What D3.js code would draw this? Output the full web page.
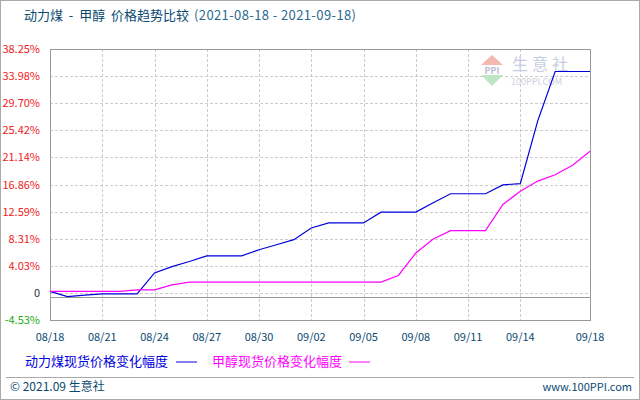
<!DOCTYPE html>
<html>
<head>
<meta charset="utf-8">
<script src="https://cdn.jsdelivr.net/npm/d3@7/dist/d3.min.js"></script>
<style>
  body { margin: 0; background: #fff; }
  text { font-family: "Noto Sans CJK SC", "DejaVu Sans", sans-serif; font-size: 12px; }
</style>
</head>
<body>
<script>
var dates = ["08/18","08/19","08/20","08/21","08/22","08/23","08/24","08/25","08/26","08/27","08/28","08/29","08/30","08/31",
             "09/01","09/02","09/03","09/04","09/05","09/06","09/07","09/08","09/09","09/10","09/11","09/12","09/13","09/14",
             "09/15","09/16","09/17","09/18"];
var coal = [0, -0.84, -0.6, -0.4, -0.4, -0.4, 2.9, 3.9, 4.7, 5.6, 5.6, 5.6, 6.56, 7.35,
            8.15, 10.0, 10.8, 10.8, 10.8, 12.5, 12.5, 12.5, 13.97, 15.4, 15.4, 15.4, 16.8, 17.0,
            26.9, 34.7, 34.7, 34.7];
var methanol = [0, 0, 0, 0, 0, 0.23, 0.23, 1.02, 1.45, 1.45, 1.45, 1.45, 1.45, 1.45,
                1.45, 1.45, 1.45, 1.45, 1.45, 1.45, 2.5, 6.04, 8.26, 9.57, 9.57, 9.57, 13.7, 15.8,
                17.4, 18.4, 19.9, 22.1];
var yTicks = [-4.53, -0.25, 4.03, 8.31, 12.59, 16.86, 21.14, 25.42, 29.70, 33.98, 38.25];
var yLabels = ["-4.53%", "0", "4.03%", "8.31%", "12.59%", "16.86%", "21.14%", "25.42%", "29.70%", "33.98%", "38.25%"];
var xTicks = ["08/18","08/21","08/24","08/27","08/30","09/02","09/05","09/08","09/11","09/14","09/18"];
var baseline = -0.9;

var w = 640, h = 400;
var svg = d3.select("body").append("svg").attr("width", w).attr("height", h);

svg.append("rect").attr("x", 0.5).attr("y", 0.5).attr("width", w - 1).attr("height", h - 1)
   .attr("fill", "#fff").attr("stroke", "#aaa");

var x = d3.scaleLinear().domain([0, dates.length - 1]).range([50, 590]);
var y = d3.scaleLinear().domain([-4.53, 38.25]).range([320, 49]);

// grid
svg.selectAll(".hg").data(yTicks.slice(1, -1)).enter().append("line")
   .attr("x1", 50).attr("x2", 590)
   .attr("y1", function(d){ return Math.round(y(d)) + 0.5; })
   .attr("y2", function(d){ return Math.round(y(d)) + 0.5; })
   .attr("stroke", "#ccc").attr("stroke-dasharray", "3,2");
svg.selectAll(".vg").data(xTicks.slice(1, -1)).enter().append("line")
   .attr("x1", function(d){ return Math.round(x(dates.indexOf(d))) + 0.5; })
   .attr("x2", function(d){ return Math.round(x(dates.indexOf(d))) + 0.5; })
   .attr("y1", 49).attr("y2", 320)
   .attr("stroke", "#ccc").attr("stroke-dasharray", "3,2");

svg.append("rect").attr("x", 50.5).attr("y", 49.5).attr("width", 540).attr("height", 271)
   .attr("fill", "none").attr("stroke", "#999");
svg.append("line").attr("x1", 50).attr("x2", 590)
   .attr("y1", Math.round(y(baseline)) + 0.5).attr("y2", Math.round(y(baseline)) + 0.5)
   .attr("stroke", "#999");

// watermark
var wm = svg.append("g").attr("transform", "translate(481,55)");
wm.append("path").attr("d", "M0,10 L11,0 L22,10 Z").attr("fill", "#f4b8b0");
wm.append("path").attr("d", "M0,20 L22,20 L11,31 Z").attr("fill", "#bfe6c4");
wm.append("text").attr("x", 11).attr("y", 19).attr("text-anchor", "middle")
   .attr("fill", "#b8bcd4").style("font-size", "9px").style("font-weight", "bold").text("PPI");
wm.append("text").attr("x", 31).attr("y", 15).attr("fill", "#c8cce0")
   .style("font-size", "16px").style("letter-spacing", "4px").text("生意社");
wm.append("text").attr("x", 30).attr("y", 30).attr("fill", "#ccd0dc")
   .style("font-size", "9px").text("100PPI.COM");

// y labels
svg.selectAll(".yl").data(yTicks).enter().append("text")
   .attr("x", 40).attr("y", function(d){ return y(d) + 4; })
   .attr("text-anchor", "end")
   .attr("fill", function(d, i){ return d > 0 ? "#ee2222" : (i === 0 ? "#22aa22" : "#333"); })
   .style("font-size", "11px")
   .text(function(d, i){ return yLabels[i]; });

// x labels
svg.selectAll(".xl").data(xTicks).enter().append("text")
   .attr("x", function(d){ return x(dates.indexOf(d)); }).attr("y", 341)
   .attr("text-anchor", "middle").attr("fill", "#0a4a70").style("font-size", "11px")
   .text(function(d){ return d; });

// lines
var line = d3.line().x(function(d, i){ return x(i); }).y(function(d){ return y(d); });
svg.append("path").datum(coal).attr("d", line).attr("fill", "none").attr("stroke", "#0000dd").attr("stroke-width", 1.2);
svg.append("path").datum(methanol).attr("d", line).attr("fill", "none").attr("stroke", "#ff00ff").attr("stroke-width", 1.2);

// title
svg.append("text").attr("x", 24).attr("y", 20).attr("fill", "#0a4a70").style("font-size", "13px")
   .style("white-space", "pre").text("动力煤  -  甲醇  价格趋势比较");
svg.append("text").attr("x", 194).attr("y", 20).attr("fill", "#2a6a90").style("font-size", "13px")
   .attr("textLength", 162).text("(2021-08-18 - 2021-09-18)");

// legend
svg.append("text").attr("x", 25).attr("y", 366).attr("fill", "#0000dd").style("font-size", "13px").text("动力煤现货价格变化幅度");
svg.append("line").attr("x1", 176).attr("x2", 197).attr("y1", 362).attr("y2", 362).attr("stroke", "#0000dd");
svg.append("text").attr("x", 212).attr("y", 366).attr("fill", "#ff00ff").style("font-size", "13px").text("甲醇现货价格变化幅度");
svg.append("line").attr("x1", 349).attr("x2", 370).attr("y1", 362).attr("y2", 362).attr("stroke", "#ff00ff");

// footer
svg.append("line").attr("x1", 6).attr("x2", 634).attr("y1", 377.5).attr("y2", 377.5).attr("stroke", "#aaa");
svg.append("text").attr("x", 10).attr("y", 391).attr("fill", "#0a4a70").style("font-size", "12px").text("© 2021.09 生意社");
svg.append("text").attr("x", 632).attr("y", 391).attr("text-anchor", "end").attr("fill", "#0a4a70")
   .style("font-size", "11px").text("www.100PPI.com");
</script>
</body>
</html>
